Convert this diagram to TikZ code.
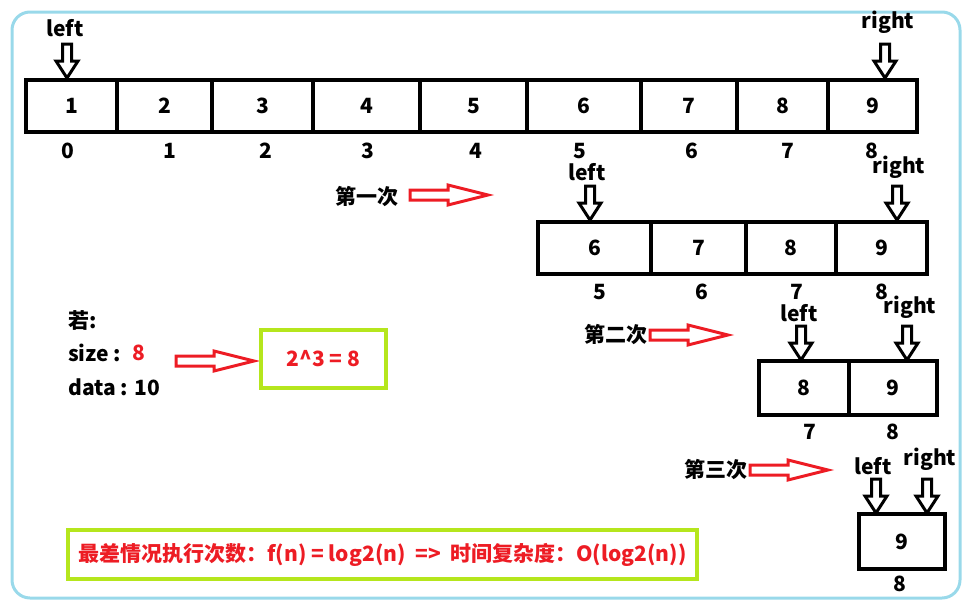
\documentclass[tikz,border=0pt]{standalone}
\usepackage{fontspec}
\setmainfont{Noto Sans CJK SC}
\usetikzlibrary{calc}
\definecolor{pred}{RGB}{237,28,36}
\definecolor{plime}{RGB}{181,230,29}
\definecolor{pblue}{RGB}{153,217,234}
\begin{document}
\begin{tikzpicture}[x=1pt,y=-1pt,
  txt/.style={inner sep=0pt,font=\bfseries\fontsize{21}{25}\selectfont},
  cell/.style={txt,draw,line width=4pt,minimum height=52pt},
  gbox/.style={txt,draw=plime,line width=4pt,text=pred},
  ptr/.pic={\draw[line width=3pt,line join=miter,fill=white]
     (-4.5,-34) -- (4.5,-34) -- (4.5,-17) -- (11,-17) -- (0,0) -- (-11,-17) -- (-4.5,-17) -- cycle;},
  rarr/.pic={\draw[pred,line width=3pt,line join=miter]
     (0,-5) -- (38,-5) -- (38,-10) -- (78,0) -- (38,10) -- (38,5) -- (0,5) -- cycle;}]
\useasboundingbox (0,0) rectangle (972,608);
\draw[pblue,line width=3pt,rounded corners=18pt] (12,12) rectangle (960,598);

% main array
\node[cell,minimum width=91pt]  (m1) at (71.5,106) {1};
\node[cell,minimum width=95pt]  (m2) at (164.5,106) {2};
\node[cell,minimum width=101pt] (m3) at (262.5,106) {3};
\node[cell,minimum width=107pt] (m4) at (366.5,106) {4};
\node[cell,minimum width=107pt] (m5) at (473.5,106) {5};
\node[cell,minimum width=114pt] (m6) at (584,106) {6};
\node[cell,minimum width=96pt]  (m7) at (689,106) {7};
\node[cell,minimum width=91pt]  (m8) at (782.5,106) {8};
\node[cell,minimum width=89pt]  (m9) at (872.5,106) {9};
\foreach \i/\x in {0/68,1/170,2/266,3/368,4/476,5/580,6/692,7/788,8/872}
  \node[txt] (mi\i) at (\x,151) {\i};
\node[txt] (mleft) at (65,28) {left};
\node[txt] (mright) at (888,22) {right};
\pic at (67,78) {ptr};
\pic at (885,78) {ptr};

% second array
\node[txt] (t1) at (367,197) {第一次};
\pic at (410,195) {rarr};
\node[cell,minimum width=113pt] (s6) at (594.5,248) {6};
\node[cell,minimum width=95pt]  (s7) at (698.5,248) {7};
\node[cell,minimum width=90pt]  (s8) at (791,248) {8};
\node[cell,minimum width=91pt]  (s9) at (881.5,248) {9};
\foreach \i/\x in {5/600,6/702,7/797,8/882}
  \node[txt] (si\i) at (\x,292) {\i};
\node[txt] (sleft) at (587,172) {left};
\node[txt] (sright) at (899,167) {right};
\pic at (590,220) {ptr};
\pic at (897,220) {ptr};

% third array
\node[txt] (t2) at (616,335) {第二次};
\pic at (650,335) {rarr};
\node[cell,minimum width=90pt,minimum height=54pt] (u8) at (804,388) {8};
\node[cell,minimum width=88pt,minimum height=54pt] (u9) at (893,388) {9};
\node[txt] (ui7) at (810,432) {7};
\node[txt] (ui8) at (893,432) {8};
\node[txt] (uleft) at (799,313) {left};
\node[txt] (uright) at (910,307) {right};
\pic at (801,360) {ptr};
\pic at (907,360) {ptr};

% fourth array
\node[txt] (t3) at (716,470) {第三次};
\pic at (750,470) {rarr};
\node[cell,minimum width=86pt,minimum height=55pt] (v9) at (902,541.5) {9};
\node[txt] (vi8) at (900,584) {8};
\node[txt] (vleft) at (873,466) {left};
\node[txt] (vright) at (930,459) {right};
\pic at (876,513) {ptr};
\pic at (927,513) {ptr};

% left notes
\node[txt,anchor=west] (ruo) at (68,320) {若:};
\node[txt,anchor=west] (size) at (68,353) {size :};
\node[txt,anchor=west,text=pred] (eight) at (132,353) {8};
\node[txt,anchor=west] (data) at (68,387) {data : 10};
\pic at (176,361) {rarr};
\node[gbox,minimum width=125pt,minimum height=58pt] (pow) at (323.5,359) {2\textasciicircum 3 = 8};

% bottom
\node[gbox,minimum width=629pt,minimum height=49pt] (res) at (382.5,554.5)
  {最差情况执行次数：f(n) = log2(n) \ =>\ \ 时间复杂度：O(log2(n))};
\end{tikzpicture}
\end{document}
